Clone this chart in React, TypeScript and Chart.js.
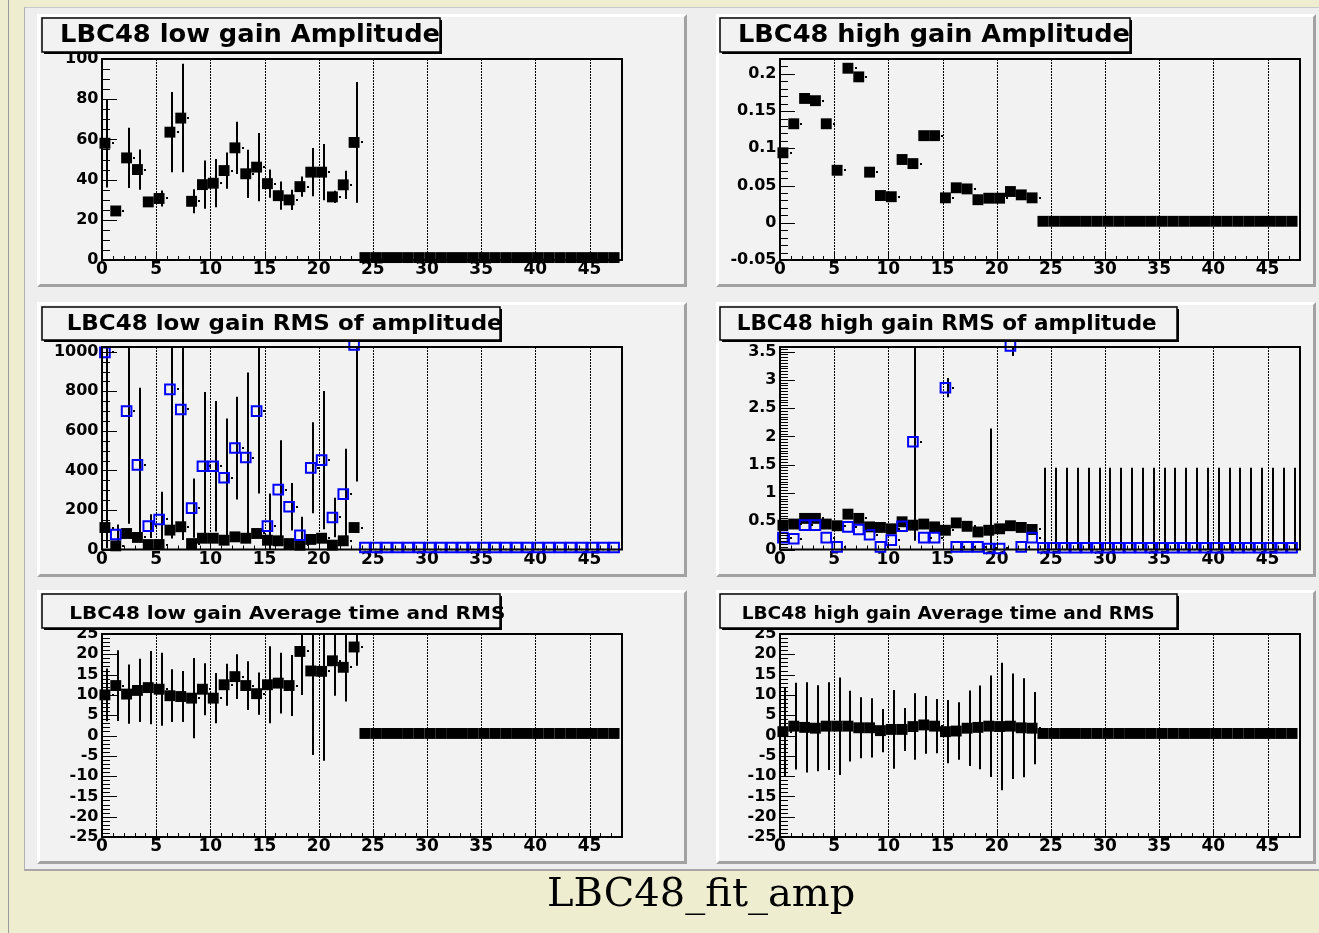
import React, { useEffect, useRef } from "react";
import { Chart, registerables } from "chart.js";

Chart.register(...registerables);

// ---------------- data ----------------
const channels = [
  0, 1, 2, 3, 4, 5, 6, 7, 8, 9, 10, 11, 12, 13, 14, 15, 16, 17, 18, 19, 20, 21, 22, 23,
  24, 25, 26, 27, 28, 29, 30, 31, 32, 33, 34, 35, 36, 37, 38, 39, 40, 41, 42, 43, 44, 45, 46, 47,
];
const activeChannels = 24;

const xTickValues = [0, 5, 10, 15, 20, 25, 30, 35, 40, 45];
const xTickLabels = ["0", "5", "10", "15", "20", "25", "30", "35", "40", "45"];
const xGridValues = [5, 10, 15, 20, 25, 30, 35, 40, 45];

const lowAmp = [
  58.1, 24.4, 50.8, 45.0, 28.9, 30.6, 63.6, 70.6, 29.2, 37.5, 38.2, 44.5, 55.8, 42.9, 46.2, 38.0,
  32.0, 29.9, 36.5, 43.7, 43.7, 31.4, 37.4, 58.5,
  1.2, 1.2, 1.2, 1.2, 1.2, 1.2, 1.2, 1.2, 1.2, 1.2, 1.2, 1.2, 1.2, 1.2, 1.2, 1.2, 1.2, 1.2, 1.2, 1.2,
  1.2, 1.2, 1.2, 1.2,
];
const lowAmpErr = [
  22, 1, 15, 10, 2, 4, 20, 27, 6, 12, 12, 9, 13, 12, 17, 7, 7, 5, 5, 12, 14, 3, 7, 30,
  0, 0, 0, 0, 0, 0, 0, 0, 0, 0, 0, 0, 0, 0, 0, 0, 0, 0, 0, 0, 0, 0, 0, 0,
];

const highAmp = [
  0.094, 0.133, 0.167, 0.164, 0.133, 0.0705, 0.2076, 0.196, 0.068, 0.0366, 0.035, 0.085, 0.0795,
  0.117, 0.117, 0.0335, 0.047, 0.0455, 0.031, 0.033, 0.033, 0.042, 0.0375, 0.0335,
  0.002, 0.002, 0.002, 0.002, 0.002, 0.002, 0.002, 0.002, 0.002, 0.002, 0.002, 0.002, 0.002, 0.002,
  0.002, 0.002, 0.002, 0.002, 0.002, 0.002, 0.002, 0.002, 0.002, 0.002,
];
const highAmpErr = [
  0, 0, 0, 0, 0, 0, 0, 0, 0, 0, 0, 0, 0, 0, 0, 0, 0, 0, 0, 0, 0, 0, 0, 0,
  0, 0, 0, 0, 0, 0, 0, 0, 0, 0, 0, 0, 0, 0, 0, 0, 0, 0, 0, 0, 0, 0, 0, 0,
];

const lowRmsMean = [
  111, 18.5, 81, 61, 25, 25, 98, 115, 30, 57, 57, 47, 64, 57, 81, 47, 44, 30, 22, 51, 57, 22, 44, 111,
  0, 0, 0, 0, 0, 0, 0, 0, 0, 0, 0, 0, 0, 0, 0, 0, 0, 0, 0, 0, 0, 0, 0, 0,
];
const lowRmsMeanErr = [
  0, 0, 0, 0, 0, 0, 0, 0, 0, 0, 0, 0, 0, 0, 0, 0, 0, 0, 0, 0, 0, 0, 0, 0,
  0, 0, 0, 0, 0, 0, 0, 0, 0, 0, 0, 0, 0, 0, 0, 0, 0, 0, 0, 0, 0, 0, 0, 0,
];
const lowRmsSpread = [
  997, 76, 700, 428, 118, 152, 810, 708, 209, 421, 421, 363, 513, 465, 700, 118, 303, 216, 72, 413,
  452, 162, 280, 1034,
  10, 10, 10, 10, 10, 10, 10, 10, 10, 10, 10, 10, 10, 10, 10, 10, 10, 10, 10, 10, 10, 10, 10, 10,
];
const lowRmsSpreadErr = [
  990, 50, 570, 390, 60, 140, 754, 660, 150, 375, 330, 300, 260, 430, 417, 165, 250, 120, 93, 230,
  350, 100, 230, 690,
  0, 0, 0, 0, 0, 0, 0, 0, 0, 0, 0, 0, 0, 0, 0, 0, 0, 0, 0, 0, 0, 0, 0, 0,
];

const highRmsMean = [
  0.43, 0.45, 0.55, 0.55, 0.45, 0.42, 0.625, 0.55, 0.4, 0.39, 0.366, 0.49, 0.43, 0.45, 0.4, 0.34,
  0.47, 0.41, 0.31, 0.34, 0.366, 0.42, 0.39, 0.354,
  0, 0, 0, 0, 0, 0, 0, 0, 0, 0, 0, 0, 0, 0, 0, 0, 0, 0, 0, 0, 0, 0, 0, 0,
];
const highRmsMeanErr = [
  0, 0, 0, 0, 0, 0, 0, 0, 0, 0, 0, 0, 0, 0, 0, 0, 0, 0, 0, 1.8, 0, 0, 0, 0,
  1.445, 1.445, 1.445, 1.445, 1.445, 1.445, 1.445, 1.445, 1.445, 1.445, 1.445, 1.445, 1.445, 1.445,
  1.445, 1.445, 1.445, 1.445, 1.445, 1.445, 1.445, 1.445, 1.445, 1.445,
];
const highRmsSpread = [
  0.21, 0.19, 0.43, 0.43, 0.21, 0.047, 0.4, 0.354, 0.26, 0.047, 0.165, 0.41, 1.905, 0.21, 0.21, 2.86,
  0.047, 0.047, 0.047, 0.018, 0.018, 3.6, 0.047, 0.21,
  0.03, 0.03, 0.03, 0.03, 0.03, 0.03, 0.03, 0.03, 0.03, 0.03, 0.03, 0.03, 0.03, 0.03, 0.03, 0.03,
  0.03, 0.03, 0.03, 0.03, 0.03, 0.03, 0.03, 0.03,
];
const highRmsSpreadErr = [
  0, 0, 0, 0, 0, 0, 0, 0, 0, 0, 0, 0, 1.75, 0, 0, 0.17, 0, 0, 0, 0, 0, 0.18, 0, 0,
  0, 0, 0, 0, 0, 0, 0, 0, 0, 0, 0, 0, 0, 0, 0, 0, 0, 0, 0, 0, 0, 0, 0, 0,
];

const lowTime = [
  10.0, 12.3, 10.2, 11.1, 11.8, 11.4, 9.8, 9.6, 9.2, 11.4, 9.2, 12.5, 14.5, 12.3, 10.3, 12.5, 12.9,
  12.3, 20.7, 15.9, 15.8, 18.4, 16.8, 21.8,
  0.5, 0.5, 0.5, 0.5, 0.5, 0.5, 0.5, 0.5, 0.5, 0.5, 0.5, 0.5, 0.5, 0.5, 0.5, 0.5, 0.5, 0.5, 0.5, 0.5,
  0.5, 0.5, 0.5, 0.5,
];
const lowTimeErr = [
  6.5, 8.7, 7.3, 7.8, 9, 9, 6.5, 6.3, 9.9, 6.4, 6.2, 5.2, 5.5, 6, 5.2, 9.5, 7.5, 7.5, 10.7, 20.7, 22,
  8.6, 8.4, 4.6,
  0, 0, 0, 0, 0, 0, 0, 0, 0, 0, 0, 0, 0, 0, 0, 0, 0, 0, 0, 0, 0, 0, 0, 0,
];
const highTime = [
  0.95, 2.3, 2.0, 1.8, 2.3, 2.3, 2.3, 1.9, 1.9, 1.2, 1.5, 1.5, 2.2, 2.6, 2.3, 0.95, 1.1, 1.8, 2.0,
  2.3, 2.2, 2.3, 1.9, 1.8,
  0.5, 0.5, 0.5, 0.5, 0.5, 0.5, 0.5, 0.5, 0.5, 0.5, 0.5, 0.5, 0.5, 0.5, 0.5, 0.5, 0.5, 0.5, 0.5, 0.5,
  0.5, 0.5, 0.5, 0.5,
];
const highTimeErr = [
  11, 10.7, 11.1, 10.6, 10.8, 12, 8.7, 7.5, 7.3, 5.3, 9.7, 5.3, 8.2, 7.1, 6.7, 7.8, 7.1, 9.3, 10.3,
  12.5, 15.7, 13, 12.2, 8.9,
  0, 0, 0, 0, 0, 0, 0, 0, 0, 0, 0, 0, 0, 0, 0, 0, 0, 0, 0, 0, 0, 0, 0, 0,
];

const ampLowTicks = [0, 20, 40, 60, 80, 100];
const ampLowLabels = ["0", "20", "40", "60", "80", "100"];
const ampHighTicks = [-0.05, 0, 0.05, 0.1, 0.15, 0.2];
const ampHighLabels = ["-0.05", "0", "0.05", "0.1", "0.15", "0.2"];
const rmsLowTicks = [0, 200, 400, 600, 800, 1000];
const rmsLowLabels = ["0", "200", "400", "600", "800", "1000"];
const rmsHighTicks = [0, 0.5, 1, 1.5, 2, 2.5, 3, 3.5];
const rmsHighLabels = ["0", "0.5", "1", "1.5", "2", "2.5", "3", "3.5"];
const timeTicks = [-25, -20, -15, -10, -5, 0, 5, 10, 15, 20, 25];
const timeLabels = ["-25", "-20", "-15", "-10", "-5", "0", "5", "10", "15", "20", "25"];

const pageTitle = "LBC48_fit_amp";

// ---------------- layout / style ----------------
type Series = { values: number[]; errors: number[]; kind: "filled" | "open" };
type Rect = { x: number; y: number; w: number; h: number };
type PanelDef = {
  title: string;
  pad: Rect;
  frame: { l: number; t: number; r: number; b: number };
  box: Rect;
  text: { x: number; base: number; w: number; size: number };
  yMin: number;
  yMax: number;
  yTicks: number[];
  yLabels: string[];
  yMinor: number;
  series: Series[];
};

const markerOffset = 0.27;
const barOffset = 0.5;
const dotOffset = 0.98;
const FONT = '"DejaVu Sans", "Liberation Sans", Arial, sans-serif';
const PAD_BG = "#f2f2f2";

const panels: PanelDef[] = [
  {
    title: "LBC48 low gain Amplitude",
    pad: { x: 37, y: 14, w: 650, h: 273 },
    frame: { l: 102, t: 59, r: 622, b: 260 },
    box: { x: 42, y: 18, w: 398, h: 34 },
    text: { x: 60, base: 42, w: 380, size: 25 },
    yMin: 0, yMax: 100, yTicks: ampLowTicks, yLabels: ampLowLabels, yMinor: 5,
    series: [{ values: lowAmp, errors: lowAmpErr, kind: "filled" }],
  },
  {
    title: "LBC48 high gain Amplitude",
    pad: { x: 716, y: 14, w: 600, h: 273 },
    frame: { l: 780, t: 59, r: 1300, b: 260 },
    box: { x: 720, y: 18, w: 410, h: 34 },
    text: { x: 738, base: 42, w: 392, size: 25 },
    yMin: -0.05, yMax: 0.22, yTicks: ampHighTicks, yLabels: ampHighLabels, yMinor: 0.01,
    series: [{ values: highAmp, errors: highAmpErr, kind: "filled" }],
  },
  {
    title: "LBC48 low gain RMS of amplitude",
    pad: { x: 37, y: 302, w: 650, h: 275 },
    frame: { l: 102, t: 347, r: 622, b: 549.5 },
    box: { x: 42, y: 307, w: 458, h: 33 },
    text: { x: 66.7, base: 330, w: 436, size: 20.5 },
    yMin: 0, yMax: 1024, yTicks: rmsLowTicks, yLabels: rmsLowLabels, yMinor: 50,
    series: [
      { values: lowRmsMean, errors: lowRmsMeanErr, kind: "filled" },
      { values: lowRmsSpread, errors: lowRmsSpreadErr, kind: "open" },
    ],
  },
  {
    title: "LBC48 high gain RMS of amplitude",
    pad: { x: 716, y: 302, w: 600, h: 275 },
    frame: { l: 780, t: 347, r: 1300, b: 549.5 },
    box: { x: 720, y: 307, w: 457, h: 33 },
    text: { x: 736.7, base: 330, w: 420, size: 20.5 },
    yMin: 0, yMax: 3.58, yTicks: rmsHighTicks, yLabels: rmsHighLabels, yMinor: 0.05,
    series: [
      { values: highRmsMean, errors: highRmsMeanErr, kind: "filled" },
      { values: highRmsSpread, errors: highRmsSpreadErr, kind: "open" },
    ],
  },
  {
    title: "LBC48 low gain Average time and RMS",
    pad: { x: 37, y: 590, w: 650, h: 274 },
    frame: { l: 102, t: 634, r: 622, b: 837 },
    box: { x: 42, y: 594, w: 458, h: 34 },
    text: { x: 69.3, base: 618.5, w: 436, size: 17 },
    yMin: -25, yMax: 25, yTicks: timeTicks, yLabels: timeLabels, yMinor: 1,
    series: [{ values: lowTime, errors: lowTimeErr, kind: "filled" }],
  },
  {
    title: "LBC48 high gain Average time and RMS",
    pad: { x: 716, y: 590, w: 600, h: 274 },
    frame: { l: 780, t: 634, r: 1300, b: 837 },
    box: { x: 720, y: 594, w: 457, h: 34 },
    text: { x: 741.7, base: 618.5, w: 413, size: 17 },
    yMin: -25, yMax: 25, yTicks: timeTicks, yLabels: timeLabels, yMinor: 1,
    series: [{ values: highTime, errors: highTimeErr, kind: "filled" }],
  },
];

function makePlugin(p: PanelDef) {
  return {
    id: "rootPad",
    beforeDraw(chart: any) {
      const ctx = chart.ctx as CanvasRenderingContext2D;
      const W = chart.width;
      const H = chart.height;
      const b = 3;
      ctx.save();
      ctx.fillStyle = PAD_BG;
      ctx.fillRect(0, 0, W, H);
      ctx.fillStyle = "#ffffff";
      ctx.beginPath();
      ctx.moveTo(0, 0);
      ctx.lineTo(W, 0);
      ctx.lineTo(W - b, b);
      ctx.lineTo(b, b);
      ctx.lineTo(b, H - b);
      ctx.lineTo(0, H);
      ctx.closePath();
      ctx.fill();
      ctx.fillStyle = "#a2a2a2";
      ctx.beginPath();
      ctx.moveTo(W, 0);
      ctx.lineTo(W, H);
      ctx.lineTo(0, H);
      ctx.lineTo(b, H - b);
      ctx.lineTo(W - b, H - b);
      ctx.lineTo(W - b, b);
      ctx.closePath();
      ctx.fill();
      ctx.restore();
    },
    beforeDatasetsDraw(chart: any) {
      const ctx = chart.ctx as CanvasRenderingContext2D;
      const ca = chart.chartArea;
      const xs = chart.scales.x;
      const ys = chart.scales.y;
      ctx.save();
      ctx.beginPath();
      ctx.rect(ca.left, ca.top, ca.right - ca.left, ca.bottom - ca.top);
      ctx.clip();
      // dotted vertical grid
      ctx.strokeStyle = "#000";
      ctx.lineWidth = 1;
      ctx.setLineDash([2, 1]);
      for (const v of xGridValues) {
        const px = Math.round(xs.getPixelForValue(v)) + 0.5;
        ctx.beginPath();
        ctx.moveTo(px, ca.top);
        ctx.lineTo(px, ca.bottom);
        ctx.stroke();
      }
      ctx.setLineDash([]);
      // error bars
      ctx.lineWidth = 2;
      for (const s of p.series) {
        s.values.forEach((v, i) => {
          const e = s.errors[i];
          if (!e) return;
          const px = Math.round(xs.getPixelForValue(channels[i] + barOffset));
          const y1 = ys.getPixelForValue(v - e);
          const y2 = ys.getPixelForValue(v + e);
          ctx.beginPath();
          ctx.moveTo(px, y1);
          ctx.lineTo(px, y2);
          ctx.stroke();
        });
      }
      ctx.restore();
    },
    afterDatasetsDraw(chart: any) {
      const ctx = chart.ctx as CanvasRenderingContext2D;
      const ca = chart.chartArea;
      const xs = chart.scales.x;
      const ys = chart.scales.y;
      ctx.save();
      // small dots at the bin edge
      ctx.fillStyle = "#000";
      for (const s of p.series) {
        s.values.forEach((v, i) => {
          if (i >= activeChannels) return;
          const px = xs.getPixelForValue(channels[i] + dotOffset);
          const py = ys.getPixelForValue(v);
          if (py < ca.top || py > ca.bottom) return;
          ctx.fillRect(Math.round(px) - 1, Math.round(py) - 1, 2, 2);
        });
      }
      // ticks
      ctx.strokeStyle = "#000";
      ctx.lineWidth = 1;
      ctx.beginPath();
      for (let v = 0; v <= 48; v += 1) {
        const px = Math.round(xs.getPixelForValue(v)) + 0.5;
        const len = v % 5 === 0 ? 7 : 4;
        ctx.moveTo(px, ca.bottom);
        ctx.lineTo(px, ca.bottom - len);
      }
      const k0 = Math.ceil(p.yMin / p.yMinor - 1e-6);
      const k1 = Math.floor(p.yMax / p.yMinor + 1e-6);
      for (let k = k0; k <= k1; k++) {
        const v = k * p.yMinor;
        const major = p.yTicks.some((t) => Math.abs(t - v) < p.yMinor * 0.01);
        const py = Math.round(ys.getPixelForValue(v)) + 0.5;
        ctx.moveTo(ca.left, py);
        ctx.lineTo(ca.left + (major ? 15 : 8), py);
      }
      ctx.stroke();
      // frame
      ctx.lineWidth = 2;
      ctx.strokeRect(ca.left, ca.top, ca.right - ca.left, ca.bottom - ca.top);
      ctx.restore();
    },
    afterDraw(chart: any) {
      const ctx = chart.ctx as CanvasRenderingContext2D;
      const bx = p.box.x - p.pad.x;
      const by = p.box.y - p.pad.y;
      ctx.save();
      ctx.fillStyle = "#000";
      ctx.fillRect(bx + 2, by + 2, p.box.w, p.box.h);
      ctx.fillStyle = PAD_BG;
      ctx.fillRect(bx, by, p.box.w, p.box.h);
      ctx.strokeStyle = "#000";
      ctx.lineWidth = 1.5;
      ctx.strokeRect(bx, by, p.box.w, p.box.h);
      ctx.font = `bold ${p.text.size}px ${FONT}`;
      const m = ctx.measureText(p.title).width;
      ctx.translate(p.text.x - p.pad.x, p.text.base - p.pad.y);
      ctx.scale(p.text.w / m, 1);
      ctx.fillStyle = "#000";
      ctx.textBaseline = "alphabetic";
      ctx.textAlign = "left";
      ctx.fillText(p.title, 0, 0);
      ctx.restore();
    },
  };
}

function makeConfig(p: PanelDef): any {
  const padRight = p.pad.x + p.pad.w - p.frame.r;
  return {
    type: "scatter",
    data: {
      datasets: p.series.map((s) => ({
        data: channels.map((c, i) => ({ x: c + markerOffset, y: s.values[i] })),
        order: s.kind === "open" ? 0 : 1,
        pointStyle: "rect",
        pointRadius: (ctx: any) => {
          const raw = ctx.raw;
          if (raw && raw.y === 0) return 1.1;
          return s.kind === "open" ? 6.8 : 7.7;
        },
        pointBackgroundColor: s.kind === "open" ? "rgba(0,0,0,0)" : "#000",
        pointBorderColor: s.kind === "open" ? "#0000ff" : "#000",
        pointBorderWidth: s.kind === "open" ? 2 : 0,
        showLine: false,
        clip: false,
      })),
    },
    options: {
      responsive: false,
      maintainAspectRatio: false,
      animation: false,
      devicePixelRatio: 1,
      events: [],
      layout: { padding: { left: 0, top: p.frame.t - p.pad.y, right: padRight, bottom: 0 } },
      plugins: { legend: { display: false }, tooltip: { enabled: false }, title: { display: false } },
      scales: {
        x: {
          type: "linear",
          position: "bottom",
          min: 0,
          max: 48,
          afterBuildTicks: (s: any) => {
            s.ticks = xTickValues.map((v) => ({ value: v }));
          },
          afterFit: (s: any) => {
            s.height = p.pad.y + p.pad.h - p.frame.b;
          },
          ticks: {
            autoSkip: false,
            maxRotation: 0,
            minRotation: 0,
            padding: 0,
            color: "#000",
            font: { family: FONT, size: 17, weight: "bold", lineHeight: 1.15 },
            callback: (_v: any, i: number) => xTickLabels[i],
          },
          grid: { display: false, drawTicks: false },
          border: { display: false },
        },
        y: {
          type: "linear",
          position: "left",
          min: p.yMin,
          max: p.yMax,
          afterBuildTicks: (s: any) => {
            s.ticks = p.yTicks.map((v) => ({ value: v }));
          },
          afterFit: (s: any) => {
            s.width = p.frame.l - p.pad.x;
          },
          ticks: {
            autoSkip: false,
            padding: 3.5,
            color: "#000",
            font: { family: FONT, size: 16, weight: "bold" },
            callback: (_v: any, i: number) => p.yLabels[i],
          },
          grid: { display: false, drawTicks: false },
          border: { display: false },
        },
      },
    },
    plugins: [makePlugin(p)],
  };
}

function Panel({ def }: { def: PanelDef }) {
  const ref = useRef<HTMLCanvasElement | null>(null);
  useEffect(() => {
    if (!ref.current) return;
    const chart = new Chart(ref.current, makeConfig(def));
    return () => chart.destroy();
  }, [def]);
  return (
    <canvas
      ref={ref}
      width={def.pad.w}
      height={def.pad.h}
      style={{
        position: "absolute",
        left: def.pad.x,
        top: def.pad.y,
        width: def.pad.w,
        height: def.pad.h,
        display: "block",
      }}
    />
  );
}

export default function App() {
  return (
    <div
      style={{
        position: "absolute",
        left: 0,
        top: 0,
        width: 1319,
        height: 933,
        background: "#efedcf",
        overflow: "hidden",
      }}
    >
      <div style={{ position: "absolute", left: 8, top: 0, width: 1, height: 933, background: "#9c9c9c" }} />
      <div
        style={{
          position: "absolute",
          left: 24,
          top: 7,
          width: 1295,
          height: 864,
          background: "#eeeeee",
          borderLeft: "1px solid #b0b0b0",
          borderTop: "1px solid #c8c8c8",
          borderBottom: "2px solid #a8a8a8",
          boxSizing: "border-box",
        }}
      />
      {panels.map((p) => (
        <Panel key={p.title} def={p} />
      ))}
      <div
        style={{
          position: "absolute",
          left: 547,
          top: 862,
          height: 60,
          lineHeight: "60px",
          whiteSpace: "nowrap",
          fontFamily: '"DejaVu Serif", "Liberation Serif", serif',
          fontSize: 40,
          color: "#000",
        }}
      >
        {pageTitle}
      </div>
    </div>
  );
}
